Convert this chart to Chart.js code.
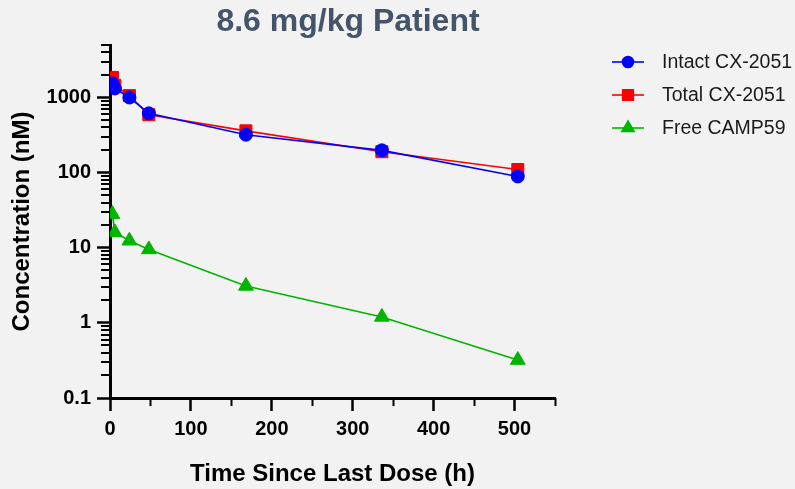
<!DOCTYPE html>
<html>
<head>
<meta charset="utf-8">
<title>8.6 mg/kg Patient</title>
<script src="https://cdn.jsdelivr.net/npm/chart.js@4.4.1/dist/chart.umd.min.js"></script>
<style>
  html, body { margin: 0; padding: 0; background: #f2f2f2; }
  #wrap { width: 795px; height: 489px; }
</style>
</head>
<body>
<div id="wrap"><canvas id="pkChart" width="795" height="489"></canvas></div>
<script>
// values
const timeHours = [3, 6, 24, 48, 168, 336, 504];
const intactCX2051 = [1540, 1320, 1000, 615, 320, 198, 89];
const totalCX2051 = [1850, 1450, 1060, 590, 360, 190, 110];
const freeCAMP59 = [28, 16, 12.4, 9.5, 3.1, 1.2, 0.32];

const seriesNames = ['Intact CX-2051', 'Total CX-2051', 'Free CAMP59'];
const seriesColors = ['#0000ff', '#ff0000', '#00b400'];

const yDecades = [0.1, 1, 10, 100, 1000];
const yTickLabels = ['0.1', '1', '10', '100', '1000'];
const xTickValues = [0, 50, 100, 150, 200, 250, 300, 350, 400, 450, 500, 550];
const xTickLabels = ['0', '', '100', '', '200', '', '300', '', '400', '', '500', ''];

const FONT = 'Arial, "Liberation Sans", Helvetica, sans-serif';

// log axis: decades plus 2..9 minor ticks, capped at 5000
const yTickValues = [];
yDecades.forEach(d => {
  for (let k = 1; k <= 9; k++) {
    if (d * k <= 5000) yTickValues.push(d * k);
  }
});

function pairs(ys) {
  return timeHours.map((t, i) => ({ x: t, y: ys[i] }));
}

const isYMajor = v => yDecades.some(d => Math.abs(d - v) < 1e-9);
const isXMajor = v => v % 100 === 0;

const extras = {
  id: 'extras',
  beforeDraw(chart) {
    const c = chart.ctx;
    c.save();
    c.fillStyle = '#f2f2f2';
    c.fillRect(0, 0, chart.width, chart.height);
    c.restore();
  },
  afterDraw(chart) {
    const c = chart.ctx;
    const xs = chart.scales.x, ys = chart.scales.y;
    c.save();

    // short minor ticks
    c.strokeStyle = '#000';
    c.lineWidth = 2;
    xs.ticks.forEach(t => {
      if (isXMajor(t.value)) return;
      const px = Math.round(xs.getPixelForValue(t.value)) + 0.5;
      c.beginPath();
      c.moveTo(px, xs.top);
      c.lineTo(px, xs.top + 8);
      c.stroke();
    });
    ys.ticks.forEach(t => {
      if (isYMajor(t.value)) return;
      const py = Math.round(ys.getPixelForValue(t.value));
      c.beginPath();
      c.moveTo(ys.right - 9, py);
      c.lineTo(ys.right, py);
      c.stroke();
    });

    // title
    c.font = 'bold 32px ' + FONT;
    c.fillStyle = '#44546a';
    c.textAlign = 'center';
    c.textBaseline = 'middle';
    c.fillText('8.6 mg/kg Patient', 348, 22);

    // legend: line + marker + label
    c.textAlign = 'left';
    c.font = '19.5px ' + FONT;
    chart.data.datasets.forEach((ds, i) => {
      const y = 62 + i * 33;
      c.strokeStyle = ds.borderColor;
      c.lineWidth = 1.6;
      c.beginPath();
      c.moveTo(612, y);
      c.lineTo(644, y);
      c.stroke();
      c.fillStyle = ds.pointBackgroundColor;
      c.strokeStyle = ds.pointBorderColor;
      Chart.helpers.drawPoint(c, {
        pointStyle: ds.pointStyle,
        radius: ds.pointStyle === 'circle' ? 5.5 : ds.pointStyle === 'rect' ? 7.5 : 7,
        rotation: 0,
        borderWidth: 1
      }, 628, y);
      c.fillStyle = '#1a1a1a';
      c.fillText(ds.label, 662, y + 1);
    });
    c.restore();
  }
};

function makeSet(i, values, style, radius) {
  return {
    label: seriesNames[i],
    data: pairs(values),
    borderColor: seriesColors[i],
    backgroundColor: seriesColors[i],
    pointBackgroundColor: seriesColors[i],
    pointBorderColor: seriesColors[i],
    pointBorderWidth: 1,
    pointStyle: style,
    pointRadius: radius,
    borderWidth: 1.6,
    tension: 0
  };
}

new Chart(document.getElementById('pkChart'), {
  type: 'line',
  data: {
    datasets: [
      makeSet(0, intactCX2051, 'circle', 6.5),
      makeSet(1, totalCX2051, 'rect', 8.5),
      makeSet(2, freeCAMP59, 'triangle', 8.5)
    ]
  },
  options: {
    responsive: false,
    devicePixelRatio: 1,
    animation: false,
    layout: { padding: { top: 45, right: 240, left: 0, bottom: 0 } },
    plugins: {
      legend: { display: false },
      title: { display: false },
      tooltip: { enabled: false }
    },
    scales: {
      x: {
        type: 'linear',
        min: 0,
        max: 550,
        afterBuildTicks: s => { s.ticks = xTickValues.map(v => ({ value: v })); },
        afterFit: s => { s.height = 91; },
        ticks: {
          autoSkip: false,
          maxRotation: 0,
          padding: 6,
          color: '#000',
          font: { family: FONT, size: 20, weight: 'bold' },
          callback: v => xTickLabels[xTickValues.indexOf(v)] ?? ''
        },
        grid: {
          drawOnChartArea: false,
          drawTicks: true,
          tickLength: 13,
          tickWidth: 2.5,
          tickColor: ctx => (ctx.tick && isXMajor(ctx.tick.value)) ? '#000' : 'rgba(0,0,0,0)'
        },
        border: { display: true, color: '#000', width: 3 },
        title: {
          display: true,
          text: 'Time Since Last Dose (h)',
          color: '#000',
          font: { family: FONT, size: 24, weight: 'bold' },
          padding: { top: 0, bottom: 0 }
        }
      },
      y: {
        type: 'logarithmic',
        min: 0.1,
        max: 5000,
        afterBuildTicks: s => { s.ticks = yTickValues.map(v => ({ value: v })); },
        afterFit: s => { s.width = 110; s.paddingTop = 0; },
        ticks: {
          autoSkip: false,
          padding: 6,
          color: '#000',
          font: { family: FONT, size: 20, weight: 'bold' },
          callback: v => {
            const i = yDecades.findIndex(d => Math.abs(d - v) < 1e-9);
            return i >= 0 ? yTickLabels[i] : '';
          }
        },
        grid: {
          drawOnChartArea: false,
          drawTicks: true,
          tickLength: 13,
          tickWidth: 2.5,
          tickColor: ctx => (ctx.tick && isYMajor(ctx.tick.value)) ? '#000' : 'rgba(0,0,0,0)'
        },
        border: { display: true, color: '#000', width: 3 },
        title: {
          display: true,
          text: 'Concentration (nM)',
          color: '#000',
          font: { family: FONT, size: 24, weight: 'bold' },
          padding: { top: 8, bottom: 0 }
        }
      }
    }
  },
  plugins: [extras]
});
</script>
</body>
</html>
